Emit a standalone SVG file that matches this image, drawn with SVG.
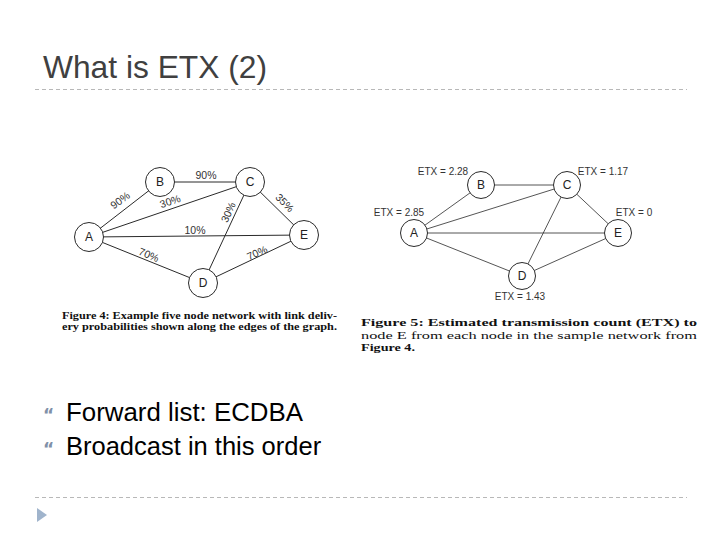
<svg xmlns="http://www.w3.org/2000/svg" width="720" height="540" viewBox="0 0 720 540">
<style>
.t{font-family:"Liberation Sans",Arial,sans-serif}
.e4{stroke:#2a2a2a;stroke-width:1;fill:none}
.e5{stroke:#2a2a2a;stroke-width:0.8;fill:none}
.n{fill:#fff;stroke:#2a2a2a;stroke-width:1}
.nl{font-family:"Liberation Sans",Arial,sans-serif;font-size:12px;fill:#222;text-anchor:middle;dominant-baseline:central}
.el{font-family:"Liberation Sans",Arial,sans-serif;font-size:10.5px;fill:#333;text-anchor:middle;dominant-baseline:central}
.el5{font-family:"Liberation Sans",Arial,sans-serif;font-size:10px;fill:#333;text-anchor:middle;dominant-baseline:central}
.cap{font-family:"Liberation Serif","Times New Roman",serif;font-size:10px;fill:#111}
.dash{stroke:#b8b8b8;stroke-width:1;stroke-dasharray:4 3}
.bul{font-family:"Liberation Sans",Arial,sans-serif;font-size:25.5px;fill:#000}
.bm{font-family:"DejaVu Sans",sans-serif;font-size:17px;font-weight:bold;fill:#8090a8}
</style>
<rect width="720" height="540" fill="#fff"/>
<text class="t" x="43" y="78" font-size="31.5" fill="#404040" textLength="224" lengthAdjust="spacingAndGlyphs">What is ETX (2)</text>
<line class="dash" x1="35" y1="89.5" x2="687" y2="89.5"/>
<line class="dash" x1="35" y1="497.5" x2="687" y2="497.5"/>
<polygon points="37,508 47,515 37,522" fill="#a0b4cc"/>

<!-- Figure 4 -->
<g id="fig4-edges">
<line class="e4" x1="89" y1="237" x2="160" y2="182"/>
<line class="e4" x1="160" y1="182" x2="250" y2="182"/>
<line class="e4" x1="89" y1="237" x2="250" y2="182"/>
<line class="e4" x1="89" y1="237" x2="304" y2="235"/>
<line class="e4" x1="89" y1="237" x2="203" y2="283"/>
<line class="e4" x1="250" y1="182" x2="203" y2="283"/>
<line class="e4" x1="250" y1="182" x2="304" y2="235"/>
<line class="e4" x1="203" y1="283" x2="304" y2="235"/>
<text class="el" x="206" y="174.5">90%</text>
<text class="el" x="120" y="200" transform="rotate(-36 120 200)">90%</text>
<text class="el" x="170" y="201" transform="rotate(-19 170 201)">30%</text>
<text class="el" x="228" y="212" transform="rotate(-65 228 212)">30%</text>
<text class="el" x="285" y="202.5" transform="rotate(45 285 202.5)">35%</text>
<text class="el" x="195" y="229.5">10%</text>
<text class="el" x="149" y="254.5" transform="rotate(22 149 254.5)">70%</text>
<text class="el" x="257" y="252.5" transform="rotate(-24 257 252.5)">70%</text>
</g>
<g id="fig4-A"><circle class="n" cx="89" cy="237" r="14.5"/><text class="nl" x="89" y="237">A</text></g>
<g id="fig4-B"><circle class="n" cx="160" cy="182" r="14.5"/><text class="nl" x="160" y="182">B</text></g>
<g id="fig4-C"><circle class="n" cx="250" cy="182" r="14.5"/><text class="nl" x="250" y="182">C</text></g>
<g id="fig4-D"><circle class="n" cx="203" cy="283" r="14.5"/><text class="nl" x="203" y="283">D</text></g>
<g id="fig4-E"><circle class="n" cx="304" cy="235" r="14.5"/><text class="nl" x="304" y="235">E</text></g>
<text class="cap" x="62" y="319" font-weight="bold" textLength="275" lengthAdjust="spacingAndGlyphs">Figure 4: Example five node network with link deliv-</text>
<text class="cap" x="62" y="330" font-weight="bold" textLength="275" lengthAdjust="spacingAndGlyphs">ery probabilities shown along the edges of the graph.</text>

<!-- Figure 5 -->
<g id="fig5-edges">
<line class="e5" x1="414" y1="233" x2="481" y2="185"/>
<line class="e5" x1="481" y1="185" x2="567" y2="185" stroke-width="1.5"/>
<line class="e5" x1="414" y1="233" x2="567" y2="185"/>
<line class="e5" x1="414" y1="233" x2="618" y2="233"/>
<line class="e5" x1="414" y1="233" x2="522" y2="276"/>
<line class="e5" x1="567" y1="185" x2="522" y2="276"/>
<line class="e5" x1="567" y1="185" x2="618" y2="233"/>
<line class="e5" x1="522" y1="276" x2="618" y2="233"/>
</g>
<g id="fig5-A"><circle class="n" cx="414" cy="233" r="13.5" stroke-width="0.8"/><text class="nl" x="414" y="233" font-size="11">A</text><text class="el5" x="399" y="212.5">ETX = 2.85</text></g>
<g id="fig5-B"><circle class="n" cx="481" cy="185" r="13.5" stroke-width="0.8"/><text class="nl" x="481" y="185" font-size="11">B</text><text class="el5" x="443" y="171.5">ETX = 2.28</text></g>
<g id="fig5-C"><circle class="n" cx="567" cy="185" r="13.5" stroke-width="0.8"/><text class="nl" x="567" y="185" font-size="11">C</text><text class="el5" x="603" y="171.5">ETX = 1.17</text></g>
<g id="fig5-D"><circle class="n" cx="522" cy="276" r="13.5" stroke-width="0.8"/><text class="nl" x="522" y="276" font-size="11">D</text><text class="el5" x="520" y="296.5">ETX = 1.43</text></g>
<g id="fig5-E"><circle class="n" cx="618" cy="233" r="13.5" stroke-width="0.8"/><text class="nl" x="618" y="233" font-size="11">E</text><text class="el5" x="634" y="212.5">ETX = 0</text></g>
<text class="cap" x="361" y="326" font-weight="bold" textLength="336" lengthAdjust="spacingAndGlyphs">Figure 5: Estimated transmission count (ETX) to</text>
<text class="cap" x="361" y="338.5" textLength="336" lengthAdjust="spacingAndGlyphs">node E from each node in the sample network from</text>
<text class="cap" x="361" y="351" font-weight="bold" textLength="54" lengthAdjust="spacingAndGlyphs">Figure 4.</text>

<!-- Bullets -->
<text class="bm" x="43" y="421">“</text>
<text class="bul" x="66" y="421" textLength="237" lengthAdjust="spacingAndGlyphs">Forward list: ECDBA</text>
<text class="bm" x="43" y="455">“</text>
<text class="bul" x="66" y="455">Broadcast in this order</text>
</svg>
